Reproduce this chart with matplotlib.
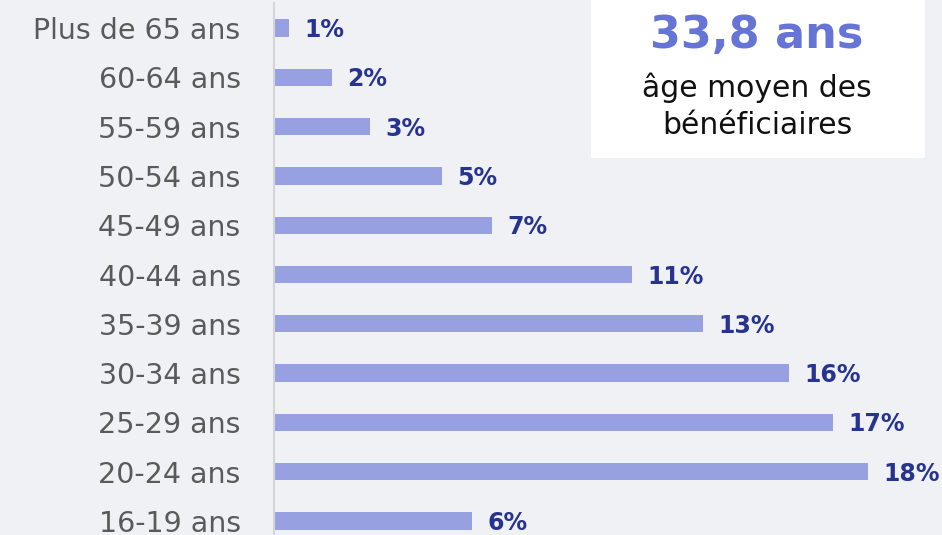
import matplotlib.pyplot as plt
from matplotlib.patches import Rectangle

# age groups, bottom to top
categories = ["16-19 ans", "20-24 ans", "25-29 ans", "30-34 ans", "35-39 ans",
              "40-44 ans", "45-49 ans", "50-54 ans", "55-59 ans", "60-64 ans",
              "Plus de 65 ans"]
values = [6.0, 18.0, 16.95, 15.6, 13.0, 10.85, 6.6, 5.1, 2.9, 1.75, 0.45]
labels = ["6%", "18%", "17%", "16%", "13%", "11%", "7%", "5%", "3%", "2%", "1%"]

avg_age = "33,8 ans"
avg_text = "âge moyen des\nbénéficiaires"

bg = "#f0f1f5"
bar_color = "#97a1e1"
label_color = "#26338f"

plt.rcParams['font.family'] = ['DejaVu Sans']

fig = plt.figure(figsize=(9.42, 5.35), dpi=100)
fig.patch.set_facecolor(bg)

ax = fig.add_axes([274 / 942, 0, 1 - 274 / 942, 1])
ax.set_facecolor(bg)

ypos = list(range(len(categories)))
ax.barh(ypos, values, height=0.35, color=bar_color)

for y, v, lab in zip(ypos, values, labels):
    ax.annotate(lab, (v, y), xytext=(11, -1.5), textcoords="offset points",
                ha="left", va="center", fontsize=17, fontweight="bold",
                color=label_color)

ax.set_xlim(0, (942 - 274) / 33)
ax.set_ylim(-0.284, 10.568)
ax.set_yticks(ypos)
ax.set_yticklabels(categories, fontsize=20.5, color="#5a5a5a")
ax.tick_params(axis="y", length=0, pad=24)
ax.set_xticks([])
for side in ["top", "right", "bottom"]:
    ax.spines[side].set_visible(False)
ax.spines["left"].set_color("#d4d5da")
ax.spines["left"].set_linewidth(1.5)
ax.spines["left"].set_bounds(10.5, -0.284)

# average age box
fig.patches.append(Rectangle((591 / 942, 1 - 158 / 535), 334 / 942, 158 / 535,
                             transform=fig.transFigure, facecolor="white",
                             edgecolor="none", zorder=3))
fig.text(757 / 942, 1 - 36 / 535, avg_age, ha="center", va="center",
         fontsize=32, fontweight="bold", color="#6674d6", zorder=4)
fig.text(757 / 942, 1 - 106 / 535, avg_text, ha="center", va="center",
         fontsize=21.5, color="#111111", linespacing=1.35, zorder=4)

fig.savefig("out.png", dpi=100, facecolor=bg)
